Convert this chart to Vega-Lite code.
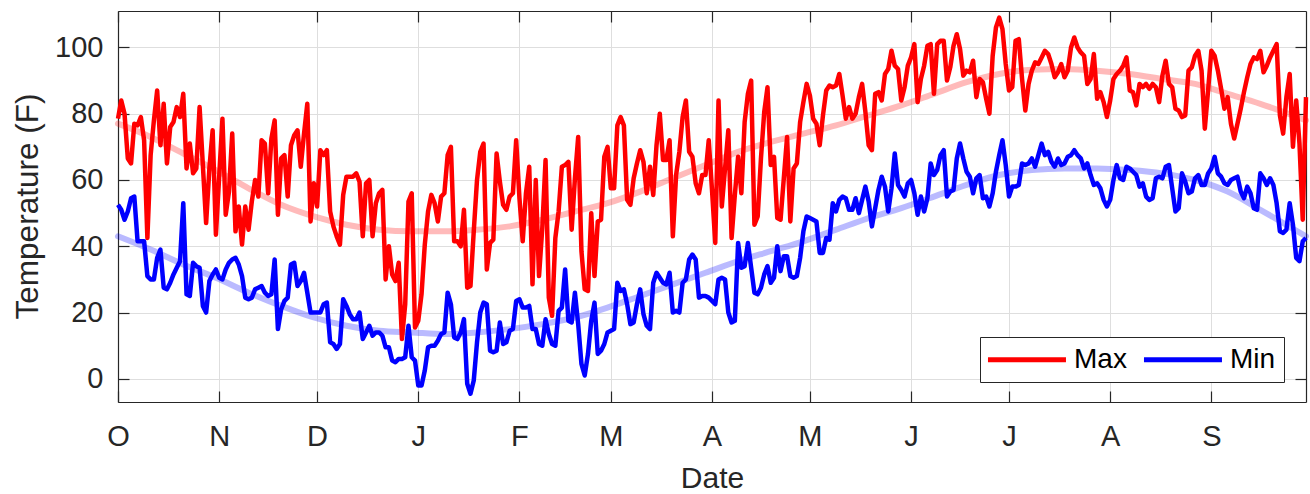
{
  "$schema": "https://vega.github.io/schema/vega-lite/v6.json",
  "width": 1188,
  "height": 391,
  "autosize": {"type": "none"},
  "padding": {"left": 118, "top": 11, "right": 4, "bottom": 92},
  "background": "white",
  "title": {"text": "Temperatures", "fontSize": 31, "fontWeight": "bold", "color": "#000000", "anchor": "middle", "frame": "group", "offset": 13, "baseline": "alphabetic", "dx": -21},
  "datasets": {
    "daily": [
      {"date": "2016-10-01", "Max": 78.5, "Min": 52.5}, {"date": "2016-10-02", "Max": 84, "Min": 51}, {"date": "2016-10-03", "Max": 80, "Min": 48},
      {"date": "2016-10-04", "Max": 66.5, "Min": 50.5}, {"date": "2016-10-05", "Max": 65, "Min": 54.5}, {"date": "2016-10-06", "Max": 77, "Min": 55},
      {"date": "2016-10-07", "Max": 76.5, "Min": 41.5}, {"date": "2016-10-08", "Max": 79, "Min": 41.5}, {"date": "2016-10-09", "Max": 72, "Min": 41.5},
      {"date": "2016-10-10", "Max": 42.5, "Min": 31}, {"date": "2016-10-11", "Max": 67.5, "Min": 30}, {"date": "2016-10-12", "Max": 78, "Min": 30},
      {"date": "2016-10-13", "Max": 87, "Min": 36.5}, {"date": "2016-10-14", "Max": 70.5, "Min": 39}, {"date": "2016-10-15", "Max": 83, "Min": 27.5},
      {"date": "2016-10-16", "Max": 65, "Min": 27}, {"date": "2016-10-17", "Max": 76, "Min": 29}, {"date": "2016-10-18", "Max": 77.5, "Min": 31.5},
      {"date": "2016-10-19", "Max": 82, "Min": 33.5}, {"date": "2016-10-20", "Max": 79, "Min": 35.5}, {"date": "2016-10-21", "Max": 86, "Min": 53},
      {"date": "2016-10-22", "Max": 63.5, "Min": 25.5}, {"date": "2016-10-23", "Max": 71, "Min": 25}, {"date": "2016-10-24", "Max": 62, "Min": 35},
      {"date": "2016-10-25", "Max": 63.5, "Min": 34}, {"date": "2016-10-26", "Max": 82, "Min": 33.5}, {"date": "2016-10-27", "Max": 64.5, "Min": 22},
      {"date": "2016-10-28", "Max": 47, "Min": 20}, {"date": "2016-10-29", "Max": 63.5, "Min": 29.5}, {"date": "2016-10-30", "Max": 75, "Min": 31.5},
      {"date": "2016-10-31", "Max": 43.5, "Min": 33},
      {"date": "2016-11-01", "Max": 61, "Min": 30.5}, {"date": "2016-11-02", "Max": 78.5, "Min": 30}, {"date": "2016-11-03", "Max": 49.5, "Min": 33},
      {"date": "2016-11-04", "Max": 56.5, "Min": 35}, {"date": "2016-11-05", "Max": 74, "Min": 36}, {"date": "2016-11-06", "Max": 44.5, "Min": 36.5},
      {"date": "2016-11-07", "Max": 52, "Min": 34.5}, {"date": "2016-11-08", "Max": 40.5, "Min": 31}, {"date": "2016-11-09", "Max": 52, "Min": 24.5},
      {"date": "2016-11-10", "Max": 45, "Min": 24}, {"date": "2016-11-11", "Max": 53.5, "Min": 24.5}, {"date": "2016-11-12", "Max": 60, "Min": 27},
      {"date": "2016-11-13", "Max": 55, "Min": 27.5}, {"date": "2016-11-14", "Max": 72, "Min": 28}, {"date": "2016-11-15", "Max": 71, "Min": 26},
      {"date": "2016-11-16", "Max": 56, "Min": 25}, {"date": "2016-11-17", "Max": 72.5, "Min": 25.5}, {"date": "2016-11-18", "Max": 78, "Min": 36},
      {"date": "2016-11-19", "Max": 49.5, "Min": 15}, {"date": "2016-11-20", "Max": 66.5, "Min": 21}, {"date": "2016-11-21", "Max": 67.5, "Min": 23.5},
      {"date": "2016-11-22", "Max": 55, "Min": 24.5}, {"date": "2016-11-23", "Max": 70.5, "Min": 34.5}, {"date": "2016-11-24", "Max": 73.5, "Min": 35},
      {"date": "2016-11-25", "Max": 75, "Min": 28}, {"date": "2016-11-26", "Max": 64, "Min": 29.5}, {"date": "2016-11-27", "Max": 74, "Min": 32},
      {"date": "2016-11-28", "Max": 83, "Min": 26}, {"date": "2016-11-29", "Max": 47.5, "Min": 20}, {"date": "2016-11-30", "Max": 59, "Min": 20},
      {"date": "2016-12-01", "Max": 52, "Min": 20}, {"date": "2016-12-02", "Max": 69, "Min": 20}, {"date": "2016-12-03", "Max": 67.5, "Min": 22.5},
      {"date": "2016-12-04", "Max": 69, "Min": 23}, {"date": "2016-12-05", "Max": 50.5, "Min": 11}, {"date": "2016-12-06", "Max": 46, "Min": 10.5},
      {"date": "2016-12-07", "Max": 43, "Min": 9}, {"date": "2016-12-08", "Max": 40.5, "Min": 10.5}, {"date": "2016-12-09", "Max": 55.5, "Min": 24},
      {"date": "2016-12-10", "Max": 61, "Min": 22}, {"date": "2016-12-11", "Max": 61, "Min": 19.5}, {"date": "2016-12-12", "Max": 61, "Min": 18},
      {"date": "2016-12-13", "Max": 62, "Min": 18}, {"date": "2016-12-14", "Max": 59.5, "Min": 20}, {"date": "2016-12-15", "Max": 43, "Min": 12},
      {"date": "2016-12-16", "Max": 59, "Min": 14}, {"date": "2016-12-17", "Max": 60, "Min": 16}, {"date": "2016-12-18", "Max": 43, "Min": 13},
      {"date": "2016-12-19", "Max": 53, "Min": 14}, {"date": "2016-12-20", "Max": 56, "Min": 14}, {"date": "2016-12-21", "Max": 57, "Min": 13},
      {"date": "2016-12-22", "Max": 30, "Min": 9.5}, {"date": "2016-12-23", "Max": 40, "Min": 9.5}, {"date": "2016-12-24", "Max": 31.5, "Min": 5.5},
      {"date": "2016-12-25", "Max": 29.5, "Min": 5}, {"date": "2016-12-26", "Max": 35, "Min": 6}, {"date": "2016-12-27", "Max": 12, "Min": 6},
      {"date": "2016-12-28", "Max": 22.5, "Min": 6.5}, {"date": "2016-12-29", "Max": 53.5, "Min": 16}, {"date": "2016-12-30", "Max": 56, "Min": 6.5},
      {"date": "2016-12-31", "Max": 15.5, "Min": 5.5},
      {"date": "2017-01-01", "Max": 17.5, "Min": -2}, {"date": "2017-01-02", "Max": 25.5, "Min": -2}, {"date": "2017-01-03", "Max": 40.5, "Min": 2.5},
      {"date": "2017-01-04", "Max": 50.5, "Min": 9.5}, {"date": "2017-01-05", "Max": 55.5, "Min": 10}, {"date": "2017-01-06", "Max": 53, "Min": 10},
      {"date": "2017-01-07", "Max": 47.5, "Min": 11.5}, {"date": "2017-01-08", "Max": 55, "Min": 13.5}, {"date": "2017-01-09", "Max": 56, "Min": 14},
      {"date": "2017-01-10", "Max": 67.5, "Min": 26}, {"date": "2017-01-11", "Max": 70, "Min": 22.5}, {"date": "2017-01-12", "Max": 41.5, "Min": 12.5},
      {"date": "2017-01-13", "Max": 41.5, "Min": 12}, {"date": "2017-01-14", "Max": 40, "Min": 14}, {"date": "2017-01-15", "Max": 51, "Min": 18},
      {"date": "2017-01-16", "Max": 27.5, "Min": -1.5}, {"date": "2017-01-17", "Max": 28, "Min": -4.5}, {"date": "2017-01-18", "Max": 44.5, "Min": -0.5},
      {"date": "2017-01-19", "Max": 60, "Min": 11}, {"date": "2017-01-20", "Max": 68.5, "Min": 20}, {"date": "2017-01-21", "Max": 71, "Min": 23},
      {"date": "2017-01-22", "Max": 33, "Min": 22.5}, {"date": "2017-01-23", "Max": 41, "Min": 8.5}, {"date": "2017-01-24", "Max": 42, "Min": 8},
      {"date": "2017-01-25", "Max": 68, "Min": 8.5}, {"date": "2017-01-26", "Max": 59.5, "Min": 17}, {"date": "2017-01-27", "Max": 52.5, "Min": 10.5},
      {"date": "2017-01-28", "Max": 51, "Min": 11}, {"date": "2017-01-29", "Max": 55, "Min": 14.5}, {"date": "2017-01-30", "Max": 56, "Min": 15},
      {"date": "2017-01-31", "Max": 72, "Min": 23.5},
      {"date": "2017-02-01", "Max": 54.5, "Min": 24}, {"date": "2017-02-02", "Max": 41.5, "Min": 21.5}, {"date": "2017-02-03", "Max": 56, "Min": 21.5},
      {"date": "2017-02-04", "Max": 64, "Min": 22}, {"date": "2017-02-05", "Max": 28.5, "Min": 15}, {"date": "2017-02-06", "Max": 60, "Min": 15},
      {"date": "2017-02-07", "Max": 31, "Min": 10.5}, {"date": "2017-02-08", "Max": 45.5, "Min": 10}, {"date": "2017-02-09", "Max": 66, "Min": 18},
      {"date": "2017-02-10", "Max": 24.5, "Min": 13.5}, {"date": "2017-02-11", "Max": 19, "Min": 10.5}, {"date": "2017-02-12", "Max": 42.5, "Min": 10},
      {"date": "2017-02-13", "Max": 50.5, "Min": 20.5}, {"date": "2017-02-14", "Max": 64, "Min": 21.5}, {"date": "2017-02-15", "Max": 64.5, "Min": 33},
      {"date": "2017-02-16", "Max": 65.5, "Min": 17.5}, {"date": "2017-02-17", "Max": 45, "Min": 17}, {"date": "2017-02-18", "Max": 60.5, "Min": 26},
      {"date": "2017-02-19", "Max": 73, "Min": 16.5}, {"date": "2017-02-20", "Max": 38.5, "Min": 4.5}, {"date": "2017-02-21", "Max": 27, "Min": 1},
      {"date": "2017-02-22", "Max": 26.5, "Min": 7.5}, {"date": "2017-02-23", "Max": 50, "Min": 17.5}, {"date": "2017-02-24", "Max": 31, "Min": 23},
      {"date": "2017-02-25", "Max": 47.5, "Min": 7.5}, {"date": "2017-02-26", "Max": 48, "Min": 8.5}, {"date": "2017-02-27", "Max": 67, "Min": 10.5},
      {"date": "2017-02-28", "Max": 70, "Min": 14},
      {"date": "2017-03-01", "Max": 57.5, "Min": 14.5}, {"date": "2017-03-02", "Max": 57.5, "Min": 15}, {"date": "2017-03-03", "Max": 76.5, "Min": 29},
      {"date": "2017-03-04", "Max": 79, "Min": 26.5}, {"date": "2017-03-05", "Max": 76.5, "Min": 27}, {"date": "2017-03-06", "Max": 54, "Min": 22.5},
      {"date": "2017-03-07", "Max": 52.5, "Min": 16.5}, {"date": "2017-03-08", "Max": 60.5, "Min": 17}, {"date": "2017-03-09", "Max": 65, "Min": 22.5},
      {"date": "2017-03-10", "Max": 69, "Min": 27}, {"date": "2017-03-11", "Max": 65.5, "Min": 19.5}, {"date": "2017-03-12", "Max": 56, "Min": 16},
      {"date": "2017-03-13", "Max": 64, "Min": 15}, {"date": "2017-03-14", "Max": 55.5, "Min": 29}, {"date": "2017-03-15", "Max": 70.5, "Min": 32},
      {"date": "2017-03-16", "Max": 80, "Min": 30.5}, {"date": "2017-03-17", "Max": 66, "Min": 29}, {"date": "2017-03-18", "Max": 66, "Min": 28.5},
      {"date": "2017-03-19", "Max": 72, "Min": 32}, {"date": "2017-03-20", "Max": 43, "Min": 20}, {"date": "2017-03-21", "Max": 61.5, "Min": 20.5},
      {"date": "2017-03-22", "Max": 68.5, "Min": 20}, {"date": "2017-03-23", "Max": 79, "Min": 29}, {"date": "2017-03-24", "Max": 84, "Min": 30},
      {"date": "2017-03-25", "Max": 68.5, "Min": 36}, {"date": "2017-03-26", "Max": 67, "Min": 37.5}, {"date": "2017-03-27", "Max": 59, "Min": 36},
      {"date": "2017-03-28", "Max": 56, "Min": 24.5}, {"date": "2017-03-29", "Max": 61.5, "Min": 25}, {"date": "2017-03-30", "Max": 61.5, "Min": 25},
      {"date": "2017-03-31", "Max": 72, "Min": 24.5},
      {"date": "2017-04-01", "Max": 57, "Min": 23.5}, {"date": "2017-04-02", "Max": 41, "Min": 22.5}, {"date": "2017-04-03", "Max": 84, "Min": 30},
      {"date": "2017-04-04", "Max": 52, "Min": 30.5}, {"date": "2017-04-05", "Max": 63.5, "Min": 30}, {"date": "2017-04-06", "Max": 75, "Min": 20},
      {"date": "2017-04-07", "Max": 42.5, "Min": 17}, {"date": "2017-04-08", "Max": 55.5, "Min": 17.5}, {"date": "2017-04-09", "Max": 67, "Min": 41},
      {"date": "2017-04-10", "Max": 56, "Min": 33.5}, {"date": "2017-04-11", "Max": 77.5, "Min": 34}, {"date": "2017-04-12", "Max": 86, "Min": 41},
      {"date": "2017-04-13", "Max": 90, "Min": 33.5}, {"date": "2017-04-14", "Max": 46.5, "Min": 26}, {"date": "2017-04-15", "Max": 49, "Min": 25.5},
      {"date": "2017-04-16", "Max": 66.5, "Min": 27.5}, {"date": "2017-04-17", "Max": 80.5, "Min": 31.5}, {"date": "2017-04-18", "Max": 88, "Min": 34},
      {"date": "2017-04-19", "Max": 64.5, "Min": 29}, {"date": "2017-04-20", "Max": 67, "Min": 30.5}, {"date": "2017-04-21", "Max": 48.5, "Min": 40},
      {"date": "2017-04-22", "Max": 48, "Min": 32.5}, {"date": "2017-04-23", "Max": 60.5, "Min": 37}, {"date": "2017-04-24", "Max": 73, "Min": 37},
      {"date": "2017-04-25", "Max": 47.5, "Min": 31}, {"date": "2017-04-26", "Max": 63.5, "Min": 30.5}, {"date": "2017-04-27", "Max": 65, "Min": 31},
      {"date": "2017-04-28", "Max": 77.5, "Min": 36.5}, {"date": "2017-04-29", "Max": 83.5, "Min": 44.5}, {"date": "2017-04-30", "Max": 89, "Min": 49},
      {"date": "2017-05-01", "Max": 85.5, "Min": 48.5}, {"date": "2017-05-02", "Max": 78.5, "Min": 48}, {"date": "2017-05-03", "Max": 77, "Min": 47.5},
      {"date": "2017-05-04", "Max": 70.5, "Min": 38}, {"date": "2017-05-05", "Max": 79.5, "Min": 38}, {"date": "2017-05-06", "Max": 87, "Min": 42.5},
      {"date": "2017-05-07", "Max": 88.5, "Min": 42}, {"date": "2017-05-08", "Max": 88, "Min": 53}, {"date": "2017-05-09", "Max": 88.5, "Min": 50.5},
      {"date": "2017-05-10", "Max": 92, "Min": 54}, {"date": "2017-05-11", "Max": 85.5, "Min": 55}, {"date": "2017-05-12", "Max": 78.5, "Min": 54.5},
      {"date": "2017-05-13", "Max": 82, "Min": 51}, {"date": "2017-05-14", "Max": 78.5, "Min": 51}, {"date": "2017-05-15", "Max": 80, "Min": 54.5},
      {"date": "2017-05-16", "Max": 85, "Min": 50}, {"date": "2017-05-17", "Max": 89, "Min": 54}, {"date": "2017-05-18", "Max": 80.5, "Min": 58},
      {"date": "2017-05-19", "Max": 70.5, "Min": 53.5}, {"date": "2017-05-20", "Max": 69, "Min": 46}, {"date": "2017-05-21", "Max": 86, "Min": 51.5},
      {"date": "2017-05-22", "Max": 86.5, "Min": 57}, {"date": "2017-05-23", "Max": 84, "Min": 61}, {"date": "2017-05-24", "Max": 92, "Min": 58},
      {"date": "2017-05-25", "Max": 93.5, "Min": 50.5}, {"date": "2017-05-26", "Max": 99, "Min": 57.5}, {"date": "2017-05-27", "Max": 94.5, "Min": 68},
      {"date": "2017-05-28", "Max": 93.5, "Min": 58.5}, {"date": "2017-05-29", "Max": 84, "Min": 57}, {"date": "2017-05-30", "Max": 88, "Min": 55},
      {"date": "2017-05-31", "Max": 94.5, "Min": 59},
      {"date": "2017-06-01", "Max": 97, "Min": 60}, {"date": "2017-06-02", "Max": 101, "Min": 56}, {"date": "2017-06-03", "Max": 83.5, "Min": 49.5},
      {"date": "2017-06-04", "Max": 90.5, "Min": 55}, {"date": "2017-06-05", "Max": 94.5, "Min": 50.5}, {"date": "2017-06-06", "Max": 100.5, "Min": 54.5},
      {"date": "2017-06-07", "Max": 101, "Min": 65}, {"date": "2017-06-08", "Max": 86, "Min": 61.5}, {"date": "2017-06-09", "Max": 101, "Min": 63},
      {"date": "2017-06-10", "Max": 102, "Min": 67.5}, {"date": "2017-06-11", "Max": 102, "Min": 69}, {"date": "2017-06-12", "Max": 90, "Min": 55},
      {"date": "2017-06-13", "Max": 94, "Min": 56.5}, {"date": "2017-06-14", "Max": 100.5, "Min": 57}, {"date": "2017-06-15", "Max": 104, "Min": 66.5},
      {"date": "2017-06-16", "Max": 99.5, "Min": 71}, {"date": "2017-06-17", "Max": 91.5, "Min": 66.5}, {"date": "2017-06-18", "Max": 93, "Min": 62.5},
      {"date": "2017-06-19", "Max": 92.5, "Min": 61}, {"date": "2017-06-20", "Max": 96, "Min": 56}, {"date": "2017-06-21", "Max": 85, "Min": 60.5},
      {"date": "2017-06-22", "Max": 90.5, "Min": 61.5}, {"date": "2017-06-23", "Max": 89.5, "Min": 54.5}, {"date": "2017-06-24", "Max": 84.5, "Min": 55},
      {"date": "2017-06-25", "Max": 80, "Min": 52}, {"date": "2017-06-26", "Max": 97.5, "Min": 56}, {"date": "2017-06-27", "Max": 106, "Min": 62.5},
      {"date": "2017-06-28", "Max": 109, "Min": 67.5}, {"date": "2017-06-29", "Max": 105.5, "Min": 72}, {"date": "2017-06-30", "Max": 95, "Min": 64.5},
      {"date": "2017-07-01", "Max": 87, "Min": 55}, {"date": "2017-07-02", "Max": 88, "Min": 58}, {"date": "2017-07-03", "Max": 102, "Min": 58},
      {"date": "2017-07-04", "Max": 102.5, "Min": 58.5}, {"date": "2017-07-05", "Max": 90.5, "Min": 65}, {"date": "2017-07-06", "Max": 81, "Min": 64.5},
      {"date": "2017-07-07", "Max": 89, "Min": 65}, {"date": "2017-07-08", "Max": 93, "Min": 66.5}, {"date": "2017-07-09", "Max": 95.5, "Min": 64},
      {"date": "2017-07-10", "Max": 95, "Min": 67.5}, {"date": "2017-07-11", "Max": 97, "Min": 71}, {"date": "2017-07-12", "Max": 99, "Min": 67.5},
      {"date": "2017-07-13", "Max": 98, "Min": 68.5}, {"date": "2017-07-14", "Max": 95, "Min": 65.5}, {"date": "2017-07-15", "Max": 91, "Min": 64},
      {"date": "2017-07-16", "Max": 92.5, "Min": 66.5}, {"date": "2017-07-17", "Max": 95, "Min": 64.5}, {"date": "2017-07-18", "Max": 91, "Min": 65},
      {"date": "2017-07-19", "Max": 93, "Min": 67}, {"date": "2017-07-20", "Max": 100, "Min": 67.5}, {"date": "2017-07-21", "Max": 103, "Min": 69},
      {"date": "2017-07-22", "Max": 100, "Min": 67.5}, {"date": "2017-07-23", "Max": 98.5, "Min": 66.5}, {"date": "2017-07-24", "Max": 97.5, "Min": 63.5},
      {"date": "2017-07-25", "Max": 89, "Min": 65}, {"date": "2017-07-26", "Max": 90.5, "Min": 61.5}, {"date": "2017-07-27", "Max": 98, "Min": 58.5},
      {"date": "2017-07-28", "Max": 84.5, "Min": 59}, {"date": "2017-07-29", "Max": 86.5, "Min": 57.5}, {"date": "2017-07-30", "Max": 83.5, "Min": 54},
      {"date": "2017-07-31", "Max": 79, "Min": 52},
      {"date": "2017-08-01", "Max": 84, "Min": 54}, {"date": "2017-08-02", "Max": 90.5, "Min": 60}, {"date": "2017-08-03", "Max": 92, "Min": 64.5},
      {"date": "2017-08-04", "Max": 93, "Min": 60.5}, {"date": "2017-08-05", "Max": 94.5, "Min": 60}, {"date": "2017-08-06", "Max": 97, "Min": 64},
      {"date": "2017-08-07", "Max": 87, "Min": 63.5}, {"date": "2017-08-08", "Max": 86.5, "Min": 62.5}, {"date": "2017-08-09", "Max": 82.5, "Min": 61.5},
      {"date": "2017-08-10", "Max": 89, "Min": 58}, {"date": "2017-08-11", "Max": 88, "Min": 59}, {"date": "2017-08-12", "Max": 89, "Min": 55},
      {"date": "2017-08-13", "Max": 87.5, "Min": 54}, {"date": "2017-08-14", "Max": 89, "Min": 54.5}, {"date": "2017-08-15", "Max": 88, "Min": 60.5},
      {"date": "2017-08-16", "Max": 83.5, "Min": 61}, {"date": "2017-08-17", "Max": 91.5, "Min": 60.5}, {"date": "2017-08-18", "Max": 96, "Min": 64},
      {"date": "2017-08-19", "Max": 89, "Min": 64.5}, {"date": "2017-08-20", "Max": 88, "Min": 57.5}, {"date": "2017-08-21", "Max": 81.5, "Min": 50.5},
      {"date": "2017-08-22", "Max": 81, "Min": 51.5}, {"date": "2017-08-23", "Max": 79, "Min": 62}, {"date": "2017-08-24", "Max": 79.5, "Min": 59.5},
      {"date": "2017-08-25", "Max": 93, "Min": 56}, {"date": "2017-08-26", "Max": 94, "Min": 56.5}, {"date": "2017-08-27", "Max": 97.5, "Min": 60.5},
      {"date": "2017-08-28", "Max": 99, "Min": 61.5}, {"date": "2017-08-29", "Max": 93, "Min": 58.5}, {"date": "2017-08-30", "Max": 75.5, "Min": 58.5},
      {"date": "2017-08-31", "Max": 87, "Min": 62},
      {"date": "2017-09-01", "Max": 99, "Min": 63.5}, {"date": "2017-09-02", "Max": 97.5, "Min": 67}, {"date": "2017-09-03", "Max": 93, "Min": 62},
      {"date": "2017-09-04", "Max": 87.5, "Min": 61}, {"date": "2017-09-05", "Max": 81.5, "Min": 59}, {"date": "2017-09-06", "Max": 85, "Min": 58.5},
      {"date": "2017-09-07", "Max": 77, "Min": 60}, {"date": "2017-09-08", "Max": 72.5, "Min": 60.5}, {"date": "2017-09-09", "Max": 77, "Min": 61},
      {"date": "2017-09-10", "Max": 81.5, "Min": 56.5}, {"date": "2017-09-11", "Max": 86.5, "Min": 54.5}, {"date": "2017-09-12", "Max": 91, "Min": 58},
      {"date": "2017-09-13", "Max": 95, "Min": 56}, {"date": "2017-09-14", "Max": 97, "Min": 51.5}, {"date": "2017-09-15", "Max": 96.5, "Min": 51},
      {"date": "2017-09-16", "Max": 99, "Min": 62}, {"date": "2017-09-17", "Max": 92.5, "Min": 60.5}, {"date": "2017-09-18", "Max": 94.5, "Min": 58.5},
      {"date": "2017-09-19", "Max": 97, "Min": 60.5}, {"date": "2017-09-20", "Max": 99, "Min": 58.5}, {"date": "2017-09-21", "Max": 101, "Min": 53},
      {"date": "2017-09-22", "Max": 79.5, "Min": 44.5}, {"date": "2017-09-23", "Max": 74, "Min": 44}, {"date": "2017-09-24", "Max": 85, "Min": 45},
      {"date": "2017-09-25", "Max": 92, "Min": 53}, {"date": "2017-09-26", "Max": 70, "Min": 46.5}, {"date": "2017-09-27", "Max": 84, "Min": 36.5},
      {"date": "2017-09-28", "Max": 71, "Min": 35.5}, {"date": "2017-09-29", "Max": 48, "Min": 41.5}, {"date": "2017-09-30", "Max": 85, "Min": 42.5}
    ],
    "fit": [
      {"date": "2016-10-01", "hiFit": 77, "loFit": 43}, {"date": "2016-10-11", "hiFit": 73, "loFit": 39}, {"date": "2016-10-21", "hiFit": 68, "loFit": 34.5},
      {"date": "2016-10-31", "hiFit": 63, "loFit": 30.5}, {"date": "2016-11-10", "hiFit": 57.5, "loFit": 26}, {"date": "2016-11-20", "hiFit": 52.5, "loFit": 22},
      {"date": "2016-11-30", "hiFit": 49, "loFit": 18.5}, {"date": "2016-12-10", "hiFit": 46.5, "loFit": 16}, {"date": "2016-12-20", "hiFit": 45, "loFit": 14.5},
      {"date": "2016-12-30", "hiFit": 44.5, "loFit": 14}, {"date": "2017-01-09", "hiFit": 44.5, "loFit": 13.5}, {"date": "2017-01-19", "hiFit": 45, "loFit": 14},
      {"date": "2017-01-29", "hiFit": 46, "loFit": 15}, {"date": "2017-02-08", "hiFit": 48, "loFit": 16.5}, {"date": "2017-02-18", "hiFit": 50.5, "loFit": 18.5},
      {"date": "2017-02-28", "hiFit": 53, "loFit": 21.5}, {"date": "2017-03-10", "hiFit": 56.5, "loFit": 25}, {"date": "2017-03-20", "hiFit": 60.5, "loFit": 28.5},
      {"date": "2017-03-30", "hiFit": 64.5, "loFit": 32}, {"date": "2017-04-09", "hiFit": 68.5, "loFit": 35.5}, {"date": "2017-04-19", "hiFit": 71.5, "loFit": 38.5},
      {"date": "2017-04-29", "hiFit": 74, "loFit": 41.5}, {"date": "2017-05-09", "hiFit": 76.5, "loFit": 45}, {"date": "2017-05-19", "hiFit": 79.5, "loFit": 48.5},
      {"date": "2017-05-29", "hiFit": 82.5, "loFit": 51.5}, {"date": "2017-06-08", "hiFit": 86, "loFit": 55}, {"date": "2017-06-18", "hiFit": 89.5, "loFit": 58.5},
      {"date": "2017-06-28", "hiFit": 92, "loFit": 61.5}, {"date": "2017-07-08", "hiFit": 93.3, "loFit": 63}, {"date": "2017-07-18", "hiFit": 93.5, "loFit": 63.5},
      {"date": "2017-07-28", "hiFit": 93, "loFit": 63.5}, {"date": "2017-08-07", "hiFit": 92, "loFit": 63}, {"date": "2017-08-17", "hiFit": 90.5, "loFit": 62},
      {"date": "2017-08-27", "hiFit": 89, "loFit": 60}, {"date": "2017-09-06", "hiFit": 86, "loFit": 56.5}, {"date": "2017-09-16", "hiFit": 83, "loFit": 51},
      {"date": "2017-09-30", "hiFit": 78, "loFit": 43}
    ]
  },
  "layer": [
    {
      "data": {"name": "fit"},
      "transform": [{"fold": ["hiFit", "loFit"], "as": ["fitSeries", "temp"]}],
      "mark": {"type": "line", "strokeWidth": 6, "opacity": 0.27, "interpolate": "monotone", "strokeCap": "round"},
      "encoding": {
        "x": {
          "field": "date", "type": "temporal",
          "scale": {"type": "utc", "domain": [{"year": 2016, "month": 10, "date": 1, "utc": true}, {"year": 2017, "month": 9, "date": 30, "utc": true}], "nice": false},
          "axis": {"orient": "top", "labels": false, "grid": false, "title": null, "tickCount": {"interval": "month", "step": 1}}
        },
        "y": {
          "field": "temp", "type": "quantitative",
          "scale": {"domain": [-7, 111], "nice": false, "zero": false},
          "axis": {"orient": "right", "labels": false, "grid": false, "title": null, "values": [0, 20, 40, 60, 80, 100]}
        },
        "stroke": {"field": "fitSeries", "type": "nominal", "scale": {"domain": ["hiFit", "loFit"], "range": ["#ff0000", "#0000ff"]}, "legend": null}
      }
    },
    {
      "data": {"name": "daily"},
      "transform": [{"fold": ["Max", "Min"], "as": ["series", "temp"]}],
      "mark": {"type": "line", "strokeWidth": 4.5, "strokeJoin": "round"},
      "encoding": {
        "x": {
          "field": "date", "type": "temporal",
          "scale": {"type": "utc", "domain": [{"year": 2016, "month": 10, "date": 1, "utc": true}, {"year": 2017, "month": 9, "date": 30, "utc": true}], "nice": false},
          "axis": {
            "orient": "bottom", "title": "Date", "grid": true,
            "tickCount": {"interval": "month", "step": 1},
            "labelExpr": "substring(utcFormat(datum.value, '%b'), 0, 1)",
            "labelPadding": 31, "labelFlush": false,
            "titleFontSize": 30,
            "titleX": 594, "titleY": 76, "titleBaseline": "middle", "titleAlign": "center"
          }
        },
        "y": {
          "field": "temp", "type": "quantitative",
          "scale": {"domain": [-7, 111], "nice": false, "zero": false},
          "axis": {
            "orient": "left", "title": "Temperature (F)", "grid": true,
            "values": [0, 20, 40, 60, 80, 100],
            "labelPadding": 26,
            "titleX": -90, "titleY": 195, "titleAngle": -90, "titleBaseline": "middle", "titleAlign": "center"
          }
        },
        "color": {
          "field": "series", "type": "nominal",
          "scale": {"domain": ["Max", "Min"], "range": ["#ff0000", "#0000ff"]},
          "legend": {
            "orient": "none", "legendX": 862, "legendY": 326, "direction": "horizontal", "title": null,
            "symbolType": "M-1.21,0H5.29", "symbolSize": 576, "symbolStrokeWidth": 5,
            "labelFontSize": 28, "labelColor": "#000000", "labelFont": "Liberation Sans", "labelLimit": 0,
            "fillColor": "#ffffff", "strokeColor": "#262626", "padding": 8, "columnPadding": 6, "labelOffset": 57
          }
        }
      }
    }
  ],
  "resolve": {"axis": {"x": "independent", "y": "independent"}},
  "config": {
    "font": "Liberation Sans",
    "view": {"stroke": null},
    "axis": {
      "domainColor": "#262626", "domainWidth": 1.2,
      "tickColor": "#262626", "tickWidth": 1.2, "tickSize": -11,
      "labelFont": "Liberation Sans", "labelFontSize": 29, "labelColor": "#262626",
      "titleFont": "Liberation Sans", "titleFontSize": 31.5, "titleFontWeight": "normal", "titleColor": "#262626",
      "gridColor": "#dedede", "gridWidth": 1, "gridOpacity": 1
    }
  }
}
